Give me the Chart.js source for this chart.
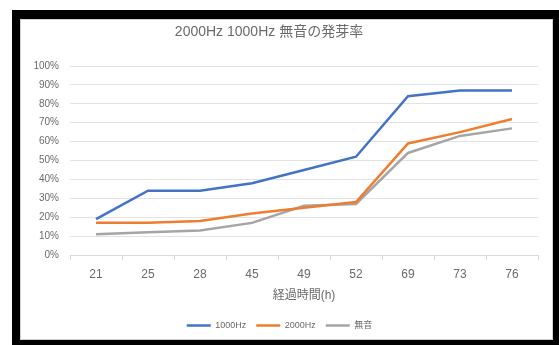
<!DOCTYPE html>
<html>
<head>
<meta charset="utf-8">
<script src="https://cdn.jsdelivr.net/npm/chart.js@4"></script>
<style>
  html, body { margin: 0; background: #fff; width: 559px; height: 345px; overflow: hidden; }
  #frame { position: absolute; left: 12px; top: 10px; width: 560px; height: 350px; background: #000; }
  #panel { position: absolute; left: 20px; top: 19px; width: 533px; height: 321px; background: #fff;
           box-sizing: border-box; border: 1px solid #d0d0d0; overflow: hidden; }
  #wrap { position: absolute; left: 0; top: 0; width: 531px; height: 320px; }
</style>
</head>
<body>
<div id="frame"></div>
<div id="panel"><div id="wrap"><canvas id="germ"></canvas></div></div>
<script>
'use strict';
// 経過時間ごとの発芽率 (%)
const hours      = ['21', '25', '28', '45', '49', '52', '69', '73', '76'];
const rate1000   = [19, 34, 34, 38, 45, 52, 84, 87, 87];
const rate2000   = [17, 17, 18, 22, 25, 28, 59, 65, 72];
const rateSilent = [11, 12, 13, 17, 26, 27, 54, 63, 67];
const seriesNames = ['1000Hz', '2000Hz', '無音'];
const yMax = 100, yStep = 10;

const TXT = '#6a6a6a';
const FONT = '"Liberation Sans", "Noto Sans CJK JP", sans-serif';

// タイトルはグラフ領域の少し左寄りに描く
const titlePlugin = {
  id: 'leftTitle',
  afterDraw(chart) {
    const c = chart.ctx;
    c.save();
    c.font = '14px ' + FONT;
    c.fillStyle = TXT;
    c.textAlign = 'center';
    c.textBaseline = 'middle';
    c.fillText('2000Hz 1000Hz 無音の発芽率', 248, 12);
    c.restore();
  }
};

const mk = (label, data, color) => ({
  label, data, borderColor: color, backgroundColor: color,
  borderWidth: 2.5, pointRadius: 0, tension: 0, pointStyle: 'line'
});

new Chart(document.getElementById('germ'), {
  type: 'line',
  data: {
    labels: hours,
    datasets: [
      mk(seriesNames[0], rate1000, '#4472C4'),
      mk(seriesNames[1], rate2000, '#ED7D31'),
      mk(seriesNames[2], rateSilent, '#A5A5A5')
    ]
  },
  plugins: [titlePlugin],
  options: {
    responsive: true, maintainAspectRatio: false, animation: false,
    layout: { padding: { top: 46, right: 14, left: 0, bottom: 0 } },
    plugins: {
      title: { display: false },
      tooltip: { enabled: false },
      legend: {
        position: 'bottom',
        labels: { usePointStyle: true, pointStyle: 'line', pointStyleWidth: 24,
                  font: { size: 9, family: FONT }, color: TXT, padding: 10 }
      }
    },
    scales: {
      y: {
        min: 0, max: yMax,
        ticks: { stepSize: yStep, callback: v => v + '%', font: { size: 10, family: FONT }, color: TXT, padding: 11 },
        grid: { color: '#e2e2e2', drawTicks: false },
        border: { display: false },
        afterFit: s => { s.width = 49; }
      },
      x: {
        offset: true,
        grid: { offset: true, drawOnChartArea: false, drawTicks: true, tickLength: 5, color: '#d9d9d9' },
        border: { display: true, color: '#d9d9d9' },
        ticks: { font: { size: 12, family: FONT }, color: TXT, padding: 7, maxRotation: 0 },
        title: { display: true, text: '経過時間(h)', font: { size: 12, family: FONT }, color: TXT,
                 padding: { top: 6, bottom: 8 } },
        afterFit: s => { s.height = 56; }
      }
    }
  }
});
</script>
</body>
</html>
